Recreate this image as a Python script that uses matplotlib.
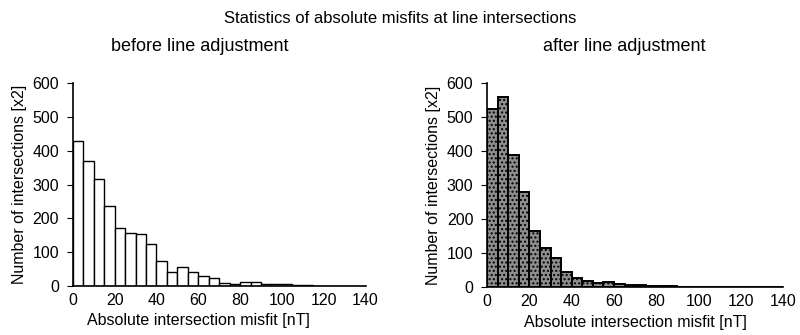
import numpy as np
import matplotlib
matplotlib.use('Agg')
import matplotlib.pyplot as plt

plt.rcParams['font.family'] = ['Liberation Sans', 'DejaVu Sans']

# histogram bins, 5 nT wide, 0-140 nT
bin_left = np.arange(0, 140, 5)
# counts before and after line adjustment
before = [430, 370, 317, 238, 171, 156, 153, 124, 73, 43, 55, 43, 29, 23,
          8, 6, 12, 12, 7, 5, 5, 3, 2, 1, 1, 0, 0, 0]
after = [524, 560, 388, 279, 166, 114, 86, 45, 28, 18, 13, 16, 8, 5,
         6, 4, 2, 2, 1, 1, 1, 1, 1, 1, 1, 1, 1, 1]

fig = plt.figure(figsize=(8, 3.35), dpi=100)
ax1 = fig.add_axes([0.091, 0.146, 0.366, 0.606])
ax2 = fig.add_axes([0.609, 0.143, 0.370, 0.609])

ax1.bar(bin_left, before, width=5, align='edge', facecolor='white',
        edgecolor='black', linewidth=1.0)
ax2.bar(bin_left, after, width=5, align='edge', facecolor='#8e8e8e',
        edgecolor='black', linewidth=1.4, hatch='....')

for ax in (ax1, ax2):
    ax.set_xlim(0, 140)
    ax.set_ylim(0, 600)
    ax.set_xticks(np.arange(0, 141, 20))
    ax.set_yticks(np.arange(0, 601, 100))
    ax.spines['top'].set_visible(False)
    ax.spines['right'].set_visible(False)
    ax.spines['left'].set_linewidth(1.2)
    ax.spines['bottom'].set_linewidth(1.2)
    ax.tick_params(axis='both', labelsize=11.5)
    ax.tick_params(axis='y', length=4, width=0.8, pad=6)
    ax.tick_params(axis='x', length=0, pad=5)
    ax.set_xlabel('Absolute intersection misfit [nT]', fontsize=11.5, labelpad=0)
    ax.set_ylabel('Number of intersections [x2]', fontsize=11.5, labelpad=4)

# the left x label sits a bit left of centre in the original
ax1.xaxis.set_label_coords(0.43, -0.135)
ax2.xaxis.set_label_coords(0.5, -0.135)

fig.text(0.5, 0.946, 'Statistics of absolute misfits at line intersections',
         ha='center', va='center', fontsize=12)
fig.text(0.25, 0.86, 'before line adjustment', ha='center', va='center', fontsize=13)
fig.text(0.78, 0.86, 'after line adjustment', ha='center', va='center', fontsize=13)

fig.savefig('out.png', dpi=100)
